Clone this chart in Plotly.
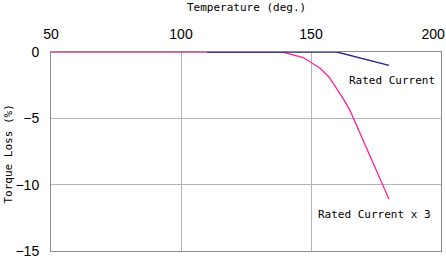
import plotly.graph_objects as go

# Data
temp_rated = [110, 160, 180]
loss_rated = [0, 0, -1.0]
temp_rated3 = [50, 139, 147, 153.5, 157, 160, 162.5, 165, 170, 175, 180]
loss_rated3 = [0, 0, -0.42, -1.22, -1.9, -2.75, -3.55, -4.4, -6.6, -8.8, -11.1]
x_ticks = [50, 100, 150, 200]
x_tick_text = ["50", "100", "150", "200<span style='color:rgba(0,0,0,0)'>00</span>"]
y_ticks = [0, -5, -10, -15]
y_tick_text = ["0", "\u22125", "\u221210", "\u221215"]

FONT = "DejaVu Sans Mono"
TICKFONT = "Liberation Sans"

fig = go.Figure()
fig.add_trace(go.Scatter(x=temp_rated3, y=loss_rated3, mode="lines",
                         line=dict(color="#ff2596", width=1.3), showlegend=False))
fig.add_trace(go.Scatter(x=temp_rated, y=loss_rated, mode="lines",
                         line=dict(color="#222288", width=1.3), showlegend=False))

fig.update_layout(
    width=446, height=259,
    margin=dict(l=51, r=5, t=52, b=8),
    paper_bgcolor="white", plot_bgcolor="white",
    font=dict(family=FONT, size=11, color="black"),
    xaxis=dict(range=[50, 200], side="top", tickvals=x_ticks, ticktext=x_tick_text,
               showgrid=True, gridcolor="#b4b4b4", gridwidth=1,
               showline=True, linecolor="#8a8a8a", linewidth=1, mirror=True,
               ticks="", zeroline=False, layer="below traces", automargin=False,
               ticklabelstandoff=6, ticklabeloverflow="allow",
               tickfont=dict(family=TICKFONT, size=14)),
    yaxis=dict(range=[-15, 0], tickvals=y_ticks, ticktext=y_tick_text,
               showgrid=True, gridcolor="#b4b4b4", gridwidth=1,
               showline=True, linecolor="#8a8a8a", linewidth=1, mirror=True,
               ticks="", zeroline=False, layer="below traces", automargin=False,
               ticklabelstandoff=8, ticklabeloverflow="allow",
               tickfont=dict(family=TICKFONT, size=14)),
    annotations=[
        dict(text="Temperature (deg.)", xref="paper", yref="paper", x=0.5, y=1,
             yshift=45, showarrow=False, font=dict(family=FONT, size=11),
             xanchor="center", yanchor="middle"),
        dict(text="Torque Loss (%)", xref="paper", yref="paper", x=0, y=0.5,
             xshift=-43, yshift=-3, textangle=-90, showarrow=False,
             font=dict(family=FONT, size=11), xanchor="center", yanchor="middle"),
        dict(text="Rated Current", x=164.0, y=-2.16, xref="x", yref="y",
             showarrow=False, font=dict(family=FONT, size=11),
             xanchor="left", yanchor="middle"),
        dict(text="Rated Current x 3", x=152.0, y=-12.28, xref="x", yref="y",
             showarrow=False, font=dict(family=FONT, size=11),
             xanchor="left", yanchor="middle"),
    ],
)

fig.write_html("out.html")
